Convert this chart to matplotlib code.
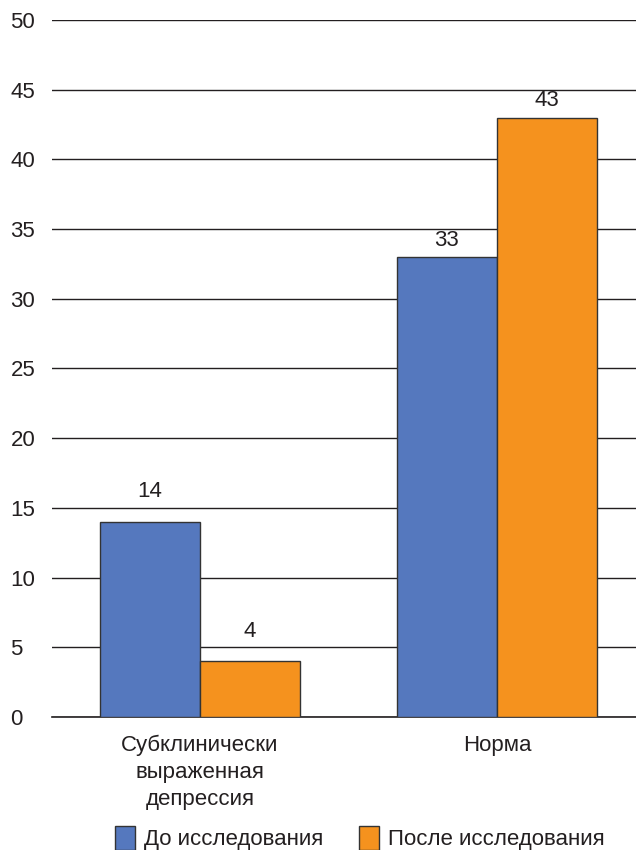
import numpy as np
import matplotlib.pyplot as plt
from matplotlib.patches import Patch

# --- Data ---
categories = ["Субклинически\nвыраженная\nдепрессия", "Норма"]
before = [14, 33]
after = [4, 43]
series_names = ["До исследования", "После исследования"]
colors = ["#5578be", "#f5921e"]

plt.rcParams['font.family'] = ['Liberation Sans', 'DejaVu Sans']
text_color = "#231f20"
fs = 16
label_pad = [1.4, 0.45]  # gap between bar top and value label, per group

fig = plt.figure(figsize=(6.36, 8.5), dpi=100)
ax = fig.add_axes([0.082, 0.1565, 0.918, 0.82])

x = np.arange(len(categories))
w = 0.337
b1 = ax.bar(x - w / 2, before, w, color=colors[0], edgecolor="#333333", linewidth=1, zorder=3)
b2 = ax.bar(x + w / 2, after, w, color=colors[1], edgecolor="#333333", linewidth=1, zorder=3)

for bars, vals in ((b1, before), (b2, after)):
    for i, (r, v) in enumerate(zip(bars, vals)):
        ax.text(r.get_x() + r.get_width() / 2, v + label_pad[i], str(v), ha="center",
                va="bottom", fontsize=fs, color=text_color)

ax.set_ylim(0, 50)
ax.set_xlim(-0.498, 1.468)
ax.set_yticks(range(0, 51, 5))
ax.yaxis.grid(True, color="#231f20", linewidth=1)
ax.axhline(0, color="#231f20", linewidth=1.2, clip_on=False, zorder=2)
ax.set_axisbelow(True)
for s in ax.spines.values():
    s.set_visible(False)
ax.tick_params(axis="both", length=0, labelsize=fs, colors=text_color)
ax.tick_params(axis="x", pad=13)
ax.set_xticks(x)
ax.set_xticklabels(categories, linespacing=1.35)
for lbl in ax.get_yticklabels():
    lbl.set_horizontalalignment("left")
ax.tick_params(axis="y", pad=30)

handles = [Patch(facecolor=c, edgecolor="#333333", linewidth=1) for c in colors]
fig.legend(handles, series_names, loc="center", bbox_to_anchor=(0.566, 0.014), ncol=2,
           frameon=False, fontsize=fs, handlelength=0.9, handleheight=1.3,
           handletextpad=0.4, columnspacing=1.6, labelcolor=text_color)

fig.savefig("out.png", dpi=100)
